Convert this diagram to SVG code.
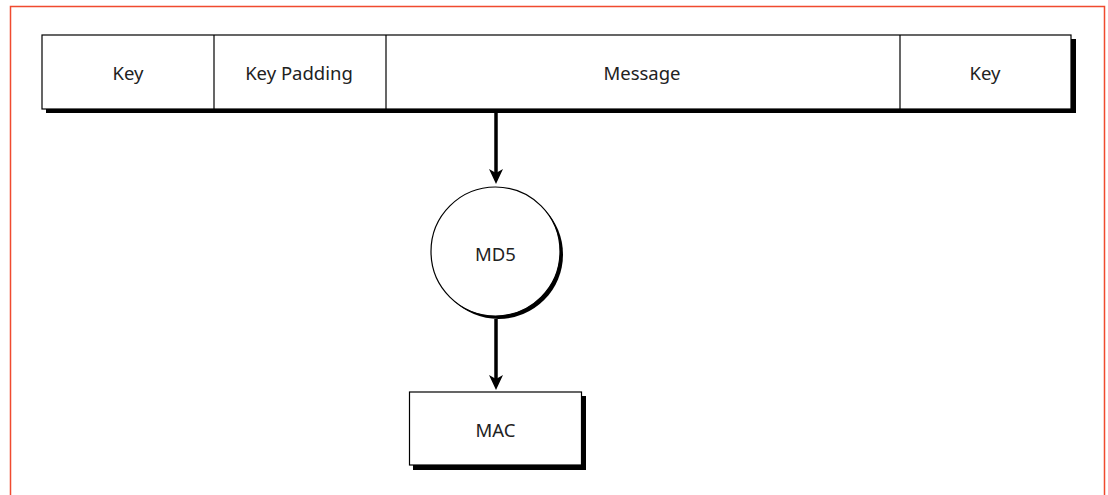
<svg xmlns="http://www.w3.org/2000/svg" width="1108" height="495" viewBox="0 0 1108 495">
<style>
.box{fill:#fff;stroke:#000;stroke-width:1.2}
.sh{fill:#000}
.lbl{font-family:"Noto Sans","Liberation Sans",Arial,sans-serif;font-size:18.5px;fill:#222;text-anchor:middle}
.con{stroke:#000;stroke-width:3.5;fill:none}
</style>
<rect x="0" y="0" width="1108" height="495" fill="#fff"/>
<path d="M10.5,495 V6.5 H1104.5 V495" fill="none" stroke="#f04a2f" stroke-width="1.5"/>
<g id="record">
<rect class="sh" x="46" y="39" width="1030" height="74"/>
<rect class="box" x="42" y="35" width="1029" height="74"/>
<line x1="214" y1="35" x2="214" y2="109" stroke="#000" stroke-width="1.2"/>
<line x1="386" y1="35" x2="386" y2="109" stroke="#000" stroke-width="1.2"/>
<line x1="900" y1="35" x2="900" y2="109" stroke="#000" stroke-width="1.2"/>
<text class="lbl" x="128" y="80">Key</text>
<text class="lbl" x="299" y="80">Key Padding</text>
<text class="lbl" x="642" y="80">Message</text>
<text class="lbl" x="985" y="80">Key</text>
</g>
<g id="md5">
<circle class="sh" cx="498.5" cy="254.5" r="64.5"/>
<circle class="box" cx="495.5" cy="251.5" r="64.5"/>
<text class="lbl" x="495.5" y="260.5">MD5</text>
</g>
<g id="mac">
<rect class="sh" x="413" y="396" width="173" height="74"/>
<rect class="box" x="409.5" y="392" width="172" height="73"/>
<text class="lbl" x="495.5" y="436.5">MAC</text>
</g>
<g id="connectors">
<path d="M496,111 V180" class="con"/>
<polygon points="489,169 496,173 503,169 496,184" fill="#000"/>
<path d="M496,319 V386" class="con"/>
<polygon points="489,375 496,379 503,375 496,390" fill="#000"/>
</g>
</svg>
